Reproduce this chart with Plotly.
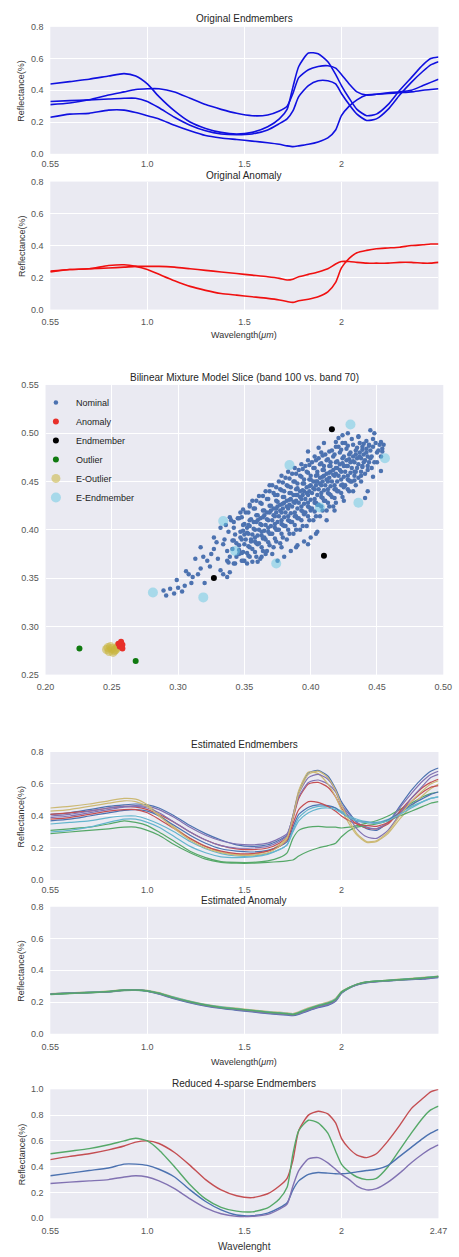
import plotly.graph_objects as go

W, H = 459, 1257

# ---------------- data ----------------
band = [0, 5, 10, 15, 19, 22, 25, 28, 32, 36, 40, 44, 48, 52, 56, 59, 61, 62.5, 64, 66.5,
        69, 71.5, 73.5, 75, 77, 79, 81.5, 84, 87, 90, 93, 96, 98, 100]
wl_tickvals = [0, 25, 50, 75]
wl_ticktext = ["0.55", "1.0", "1.5", "2"]
wl_tickvals_last = [0, 25, 50, 75, 100]
wl_ticktext_last = ["0.55", "1.0", "1.5", "2", "2.47"]

orig_a = [0.44, 0.455, 0.47, 0.49, 0.505, 0.49, 0.44, 0.36, 0.27, 0.20, 0.16, 0.135, 0.125, 0.135, 0.17, 0.22, 0.28,
          0.42, 0.55, 0.635, 0.63, 0.58, 0.50, 0.43, 0.35, 0.28, 0.24, 0.25, 0.31, 0.40, 0.48, 0.56, 0.60, 0.61]
orig_b = [0.31, 0.32, 0.34, 0.37, 0.39, 0.405, 0.41, 0.41, 0.39, 0.35, 0.31, 0.28, 0.255, 0.24, 0.245, 0.27, 0.30,
          0.38, 0.48, 0.53, 0.55, 0.555, 0.54, 0.50, 0.44, 0.39, 0.37, 0.375, 0.385, 0.39, 0.40, 0.43, 0.45, 0.47]
orig_c = [0.33, 0.335, 0.34, 0.345, 0.35, 0.35, 0.33, 0.29, 0.23, 0.18, 0.145, 0.125, 0.12, 0.125, 0.15, 0.19, 0.22,
          0.27, 0.36, 0.43, 0.46, 0.46, 0.44, 0.38, 0.31, 0.25, 0.21, 0.22, 0.28, 0.37, 0.45, 0.52, 0.56, 0.58]
orig_d = [0.23, 0.25, 0.255, 0.275, 0.275, 0.26, 0.24, 0.22, 0.18, 0.145, 0.115, 0.10, 0.09, 0.08, 0.07, 0.06, 0.05,
          0.045, 0.05, 0.06, 0.075, 0.10, 0.15, 0.24, 0.30, 0.34, 0.37, 0.375, 0.38, 0.385, 0.39, 0.40, 0.405, 0.41]

orig_anom_1 = [0.24, 0.25, 0.255, 0.26, 0.265, 0.27, 0.27, 0.27, 0.265, 0.255, 0.245, 0.235, 0.225, 0.215, 0.205,
               0.195, 0.185, 0.19, 0.205, 0.22, 0.235, 0.255, 0.285, 0.30, 0.30, 0.295, 0.29, 0.29, 0.29, 0.295,
               0.295, 0.29, 0.29, 0.295]
orig_anom_2 = [0.235, 0.25, 0.255, 0.275, 0.28, 0.27, 0.25, 0.22, 0.18, 0.145, 0.12, 0.10, 0.09, 0.08, 0.07, 0.06,
               0.05, 0.045, 0.055, 0.065, 0.08, 0.11, 0.17, 0.26, 0.32, 0.355, 0.37, 0.38, 0.385, 0.39, 0.40, 0.405,
               0.41, 0.41]

# scatter: band 100 vs band 70, (x, y) in thousandths
nominal = [
    (289, 337), (291, 332), (297, 334), (303, 336), (299, 348), (305, 342), (308, 354), (311, 351), (315, 354),
    (317, 360), (319, 372), (313, 370), (322, 368), (325, 375), (327, 380), (317, 382), (329, 387), (327, 392),
    (332, 358), (334, 354), (337, 351), (339, 356), (342, 365), (337, 368), (332, 402), (339, 413), (342, 389),
    (346, 375), (350, 368), (354, 372), (356, 367), (360, 367), (363, 372), (320, 345), (324, 362), (330, 370),
    (310, 345), (306, 357), (300, 340), (294, 339),
    (445, 503), (448, 500), (453, 491), (455, 488), (454, 481), (453, 461), (443, 440), (441, 433), (421, 495),
    (424, 498), (419, 491), (406, 485), (398, 481), (404, 396), (398, 385), (389, 382), (385, 378), (378, 382),
    (371, 375), (366, 375), (410, 490), (428, 500), (436, 497), (450, 470), (447, 455),
    (375, 368), (380, 372), (390, 384), (400, 392), (405, 398), (395, 388), (412, 410), (418, 420), (425, 430),
    (432, 440), (438, 450),
    (335, 390), (337, 378), (338, 398), (336, 405), (339, 372), (334, 385), (340, 410), (338, 366),
    (341, 380), (343, 395), (342, 402), (344, 372), (341, 389), (345, 412), (343, 365), (344, 386), (342, 408),
    (346, 384), (347, 398), (348, 376), (349, 405), (346, 412), (348, 390), (349, 368), (347, 418), (350, 395),
    (346, 379),
    (351, 390), (352, 402), (353, 383), (354, 410), (351, 418), (352, 376), (353, 396), (354, 424), (355, 388),
    (352, 365), (353, 405),
    (356, 395), (357, 408), (358, 388), (359, 415), (356, 380), (357, 422), (358, 400), (359, 372), (360, 410),
    (356, 430), (358, 392), (360, 385),
    (361, 400), (362, 412), (363, 394), (364, 420), (361, 386), (362, 428), (363, 405), (364, 378), (365, 415),
    (361, 435), (363, 398), (365, 392), (362, 370),
    (366, 405), (367, 418), (368, 398), (369, 425), (366, 390), (367, 432), (368, 410), (369, 384), (370, 420),
    (366, 440), (368, 402), (370, 396), (367, 378), (369, 446),
    (371, 410), (372, 422), (373, 402), (374, 430), (371, 396), (372, 438), (373, 414), (374, 388), (375, 424),
    (371, 446), (373, 406), (375, 400), (372, 382), (374, 418), (375, 436),
    (376, 414), (377, 426), (378, 406), (379, 434), (376, 400), (377, 442), (378, 418), (379, 392), (380, 428),
    (376, 450), (378, 410), (380, 404), (377, 386), (379, 422), (380, 440), (378, 456),
    (381, 418), (382, 430), (383, 410), (384, 438), (381, 404), (382, 446), (383, 422), (384, 396), (385, 432),
    (381, 454), (383, 414), (385, 408), (382, 390), (384, 426), (385, 444), (383, 460),
    (386, 424), (387, 436), (388, 414), (389, 442), (386, 408), (387, 450), (388, 428), (389, 400), (390, 436),
    (386, 458), (388, 418), (390, 412), (387, 396), (389, 430), (390, 448), (388, 464),
    (391, 428), (392, 440), (393, 420), (394, 448), (391, 412), (392, 456), (393, 432), (394, 404), (395, 440),
    (391, 462), (393, 424), (395, 416), (392, 400), (394, 436), (395, 452), (393, 468),
    (396, 432), (397, 444), (398, 424), (399, 452), (396, 418), (397, 460), (398, 436), (399, 410), (400, 446),
    (396, 466), (398, 428), (400, 420), (397, 404), (399, 440), (400, 456), (398, 472),
    (401, 438), (402, 450), (403, 428), (404, 456), (401, 422), (402, 464), (403, 442), (404, 414), (405, 450),
    (401, 470), (403, 432), (405, 426), (402, 410), (404, 446), (405, 460), (403, 476),
    (406, 442), (407, 454), (408, 434), (409, 462), (406, 426), (407, 468), (408, 446), (409, 420), (410, 456),
    (406, 474), (408, 438), (410, 430), (407, 414), (409, 450), (410, 466), (408, 480),
    (411, 446), (412, 458), (413, 438), (414, 466), (411, 430), (412, 472), (413, 450), (414, 424), (415, 460),
    (411, 478), (413, 442), (415, 436), (412, 420), (414, 454), (415, 470),
    (416, 450), (417, 462), (418, 442), (419, 470), (416, 434), (417, 476), (418, 456), (419, 428), (420, 464),
    (416, 482), (418, 446), (420, 440), (417, 424), (419, 458),
    (421, 456), (422, 468), (423, 446), (424, 474), (421, 440), (422, 480), (423, 460), (424, 434), (425, 466),
    (421, 486), (423, 452), (425, 444), (424, 490),
    (426, 460), (427, 472), (428, 452), (429, 478), (426, 446), (427, 484), (428, 466), (429, 440), (430, 470),
    (426, 490), (428, 456), (430, 450),
    (431, 464), (432, 476), (433, 456), (434, 482), (431, 450), (432, 488), (433, 470), (434, 446), (435, 474),
    (431, 494), (433, 460),
    (436, 468), (437, 480), (438, 460), (439, 486), (436, 454), (437, 490), (438, 474), (440, 478), (439, 466),
    (436, 496),
    (441, 472), (442, 484), (443, 466), (444, 488), (441, 458), (442, 492), (443, 476), (445, 482),
    (446, 476), (447, 486), (448, 470), (449, 490), (446, 464), (447, 494), (450, 480),
    (451, 482), (452, 488), (453, 476), (454, 484),
    # denser core
    (348, 368), (349, 377), (350, 385), (347, 392), (349, 399), (350, 406), (348, 413), (349, 421),
    (353, 373), (354, 382), (355, 390), (352, 397), (354, 404), (355, 411), (353, 418), (354, 426),
    (358, 377), (359, 386), (360, 394), (357, 401), (359, 408), (360, 415), (358, 422), (359, 430),
    (363, 382), (364, 391), (365, 399), (362, 406), (364, 413), (365, 420), (363, 427), (364, 435),
    (368, 387), (369, 396), (370, 404), (367, 411), (369, 418), (370, 425), (368, 432), (369, 440),
    (373, 391), (374, 400), (375, 408), (372, 415), (374, 422), (375, 429), (373, 436), (374, 444),
    (378, 396), (379, 405), (380, 413), (377, 420), (379, 427), (380, 434), (378, 441), (379, 449),
    (383, 400), (384, 409), (385, 417), (382, 424), (384, 431), (385, 438), (383, 445), (384, 453),
    (388, 405), (389, 414), (390, 422), (387, 429), (389, 436), (390, 443), (388, 450), (389, 458),
    (393, 410), (394, 419), (395, 427), (392, 434), (394, 441), (395, 448), (393, 455), (394, 463),
    (398, 414), (399, 423), (400, 431), (397, 438), (399, 445), (400, 452), (398, 459), (399, 467),
    (403, 419), (404, 428), (405, 436), (402, 443), (404, 450), (405, 457), (403, 464), (404, 472),
    (408, 424), (409, 433), (410, 441), (407, 448), (409, 455), (410, 462), (408, 469), (409, 477),
    (413, 428), (414, 437), (415, 445), (412, 452), (414, 459), (415, 466), (413, 473), (414, 481),
    (418, 433), (419, 442), (420, 450), (417, 457), (419, 464), (420, 471), (418, 478), (419, 486),
    (423, 438), (424, 447), (425, 455), (422, 462), (424, 469), (425, 476), (423, 483),
    (428, 442), (429, 451), (430, 459), (427, 466), (429, 473), (430, 480), (428, 487),
    (433, 451), (434, 460), (435, 464), (432, 471), (434, 478), (435, 485),
    (438, 456), (439, 465), (440, 470), (437, 476), (439, 483), (440, 489),
    (443, 462), (444, 470), (445, 474), (442, 480), (444, 487),
]
anomaly_x = [0.257, 0.258, 0.256, 0.258, 0.255]
anomaly_y = [0.284, 0.281, 0.279, 0.277, 0.282]
endmember_x = [0.416, 0.410, 0.327]
endmember_y = [0.504, 0.373, 0.350]
outlier_x = [0.2256, 0.268]
outlier_y = [0.277, 0.264]
e_outlier_x = [0.246, 0.248, 0.250, 0.252, 0.254, 0.249, 0.251, 0.247, 0.253, 0.255]
e_outlier_y = [0.276, 0.274, 0.277, 0.275, 0.278, 0.279, 0.273, 0.278, 0.276, 0.280]
e_endmember_x = [0.430, 0.456, 0.384, 0.334, 0.343, 0.374, 0.407, 0.436, 0.281, 0.319]
e_endmember_y = [0.509, 0.474, 0.467, 0.409, 0.378, 0.365, 0.423, 0.428, 0.335, 0.330]

est_blue1 = [0.41, 0.42, 0.44, 0.46, 0.47, 0.475, 0.47, 0.45, 0.40, 0.34, 0.29, 0.25, 0.22, 0.21, 0.22, 0.25, 0.28,
             0.40, 0.55, 0.67, 0.685, 0.65, 0.57, 0.49, 0.42, 0.36, 0.32, 0.31, 0.36, 0.46, 0.56, 0.64, 0.68, 0.70]
est_green1 = [0.31, 0.32, 0.33, 0.35, 0.37, 0.36, 0.34, 0.30, 0.24, 0.18, 0.14, 0.115, 0.11, 0.11, 0.12, 0.14, 0.17,
              0.26, 0.31, 0.33, 0.335, 0.33, 0.33, 0.325, 0.33, 0.34, 0.355, 0.37, 0.40, 0.44, 0.48, 0.52, 0.54, 0.55]
est_red1 = [0.41, 0.42, 0.43, 0.45, 0.46, 0.455, 0.44, 0.41, 0.36, 0.30, 0.25, 0.215, 0.195, 0.19, 0.20, 0.23, 0.27,
            0.38, 0.51, 0.60, 0.61, 0.58, 0.52, 0.45, 0.39, 0.35, 0.325, 0.32, 0.35, 0.43, 0.51, 0.58, 0.61, 0.63]
est_purple1 = [0.40, 0.41, 0.43, 0.45, 0.46, 0.465, 0.46, 0.44, 0.39, 0.33, 0.28, 0.245, 0.225, 0.22, 0.23, 0.26, 0.29,
               0.39, 0.52, 0.61, 0.625, 0.60, 0.55, 0.47, 0.41, 0.36, 0.33, 0.32, 0.36, 0.45, 0.54, 0.62, 0.66, 0.68]
est_khaki1 = [0.45, 0.46, 0.475, 0.495, 0.51, 0.505, 0.47, 0.41, 0.33, 0.26, 0.21, 0.175, 0.16, 0.16, 0.18, 0.22, 0.27,
              0.40, 0.56, 0.675, 0.665, 0.60, 0.52, 0.44, 0.35, 0.28, 0.235, 0.24, 0.29, 0.38, 0.46, 0.53, 0.57, 0.60]
est_cyan1 = [0.35, 0.36, 0.37, 0.39, 0.40, 0.40, 0.38, 0.35, 0.30, 0.24, 0.195, 0.165, 0.15, 0.15, 0.165, 0.19, 0.22,
             0.31, 0.39, 0.44, 0.46, 0.46, 0.45, 0.43, 0.40, 0.38, 0.365, 0.36, 0.38, 0.42, 0.46, 0.49, 0.51, 0.52]
est_blue2 = [0.37, 0.38, 0.40, 0.42, 0.435, 0.44, 0.43, 0.40, 0.34, 0.28, 0.23, 0.195, 0.18, 0.175, 0.185, 0.21, 0.24,
             0.33, 0.41, 0.455, 0.47, 0.465, 0.45, 0.42, 0.39, 0.37, 0.36, 0.355, 0.375, 0.42, 0.47, 0.51, 0.535, 0.55]
est_green2 = [0.29, 0.30, 0.31, 0.32, 0.33, 0.33, 0.31, 0.28, 0.22, 0.17, 0.13, 0.11, 0.105, 0.105, 0.11, 0.115, 0.12,
              0.125, 0.15, 0.18, 0.20, 0.215, 0.23, 0.27, 0.31, 0.33, 0.34, 0.35, 0.37, 0.40, 0.43, 0.46, 0.48, 0.49]
est_red2 = [0.38, 0.39, 0.41, 0.43, 0.44, 0.44, 0.42, 0.38, 0.32, 0.26, 0.21, 0.18, 0.165, 0.165, 0.18, 0.21, 0.25,
            0.35, 0.44, 0.49, 0.485, 0.46, 0.43, 0.40, 0.37, 0.35, 0.34, 0.335, 0.36, 0.42, 0.49, 0.55, 0.58, 0.59]
est_purple2 = [0.39, 0.40, 0.42, 0.44, 0.455, 0.46, 0.45, 0.42, 0.36, 0.30, 0.25, 0.215, 0.20, 0.20, 0.21, 0.24, 0.28,
               0.40, 0.54, 0.64, 0.66, 0.63, 0.56, 0.47, 0.39, 0.32, 0.27, 0.26, 0.31, 0.41, 0.51, 0.59, 0.64, 0.66]
est_khaki2 = [0.43, 0.44, 0.46, 0.48, 0.495, 0.49, 0.46, 0.40, 0.32, 0.25, 0.20, 0.17, 0.155, 0.155, 0.17, 0.21, 0.26,
              0.39, 0.54, 0.66, 0.68, 0.64, 0.56, 0.47, 0.37, 0.29, 0.24, 0.245, 0.30, 0.40, 0.49, 0.56, 0.60, 0.62]
est_cyan2 = [0.30, 0.31, 0.33, 0.36, 0.38, 0.38, 0.36, 0.33, 0.27, 0.21, 0.17, 0.145, 0.14, 0.145, 0.16, 0.19, 0.22,
             0.30, 0.37, 0.42, 0.445, 0.45, 0.44, 0.42, 0.39, 0.37, 0.36, 0.355, 0.37, 0.41, 0.45, 0.49, 0.51, 0.52]

est_anom_1 = [0.25, 0.255, 0.26, 0.265, 0.275, 0.275, 0.268, 0.25, 0.22, 0.195, 0.175, 0.16, 0.148, 0.138, 0.128,
              0.122, 0.118, 0.115, 0.123, 0.145, 0.165, 0.18, 0.205, 0.255, 0.288, 0.308, 0.322, 0.328, 0.332, 0.338,
              0.342, 0.345, 0.35, 0.355]
est_anom_2 = [0.252, 0.257, 0.262, 0.267, 0.277, 0.277, 0.272, 0.258, 0.23, 0.205, 0.185, 0.17, 0.16, 0.15, 0.14,
              0.135, 0.13, 0.126, 0.138, 0.162, 0.182, 0.198, 0.222, 0.265, 0.292, 0.312, 0.327, 0.332, 0.337, 0.343,
              0.348, 0.354, 0.358, 0.362]
est_anom_3 = [0.248, 0.254, 0.259, 0.264, 0.273, 0.274, 0.27, 0.254, 0.225, 0.2, 0.18, 0.165, 0.154, 0.144, 0.134,
              0.128, 0.124, 0.12, 0.13, 0.152, 0.172, 0.188, 0.212, 0.26, 0.29, 0.31, 0.325, 0.33, 0.335, 0.34, 0.345,
              0.35, 0.355, 0.36]
est_anom_4 = [0.25, 0.256, 0.261, 0.266, 0.276, 0.276, 0.271, 0.256, 0.228, 0.203, 0.183, 0.168, 0.157, 0.147, 0.137,
              0.132, 0.127, 0.123, 0.134, 0.158, 0.178, 0.194, 0.218, 0.262, 0.291, 0.311, 0.326, 0.331, 0.336, 0.342,
              0.347, 0.352, 0.357, 0.361]
est_anom_5 = [0.251, 0.256, 0.26, 0.265, 0.274, 0.275, 0.269, 0.252, 0.223, 0.198, 0.178, 0.163, 0.151, 0.141, 0.131,
              0.125, 0.121, 0.118, 0.127, 0.149, 0.169, 0.184, 0.208, 0.258, 0.289, 0.309, 0.324, 0.329, 0.334, 0.339,
              0.344, 0.348, 0.352, 0.357]
est_anom_6 = [0.249, 0.255, 0.26, 0.266, 0.275, 0.276, 0.27, 0.255, 0.226, 0.201, 0.181, 0.166, 0.156, 0.146, 0.136,
              0.13, 0.126, 0.122, 0.132, 0.156, 0.176, 0.192, 0.216, 0.262, 0.29, 0.311, 0.326, 0.331, 0.336, 0.341,
              0.346, 0.351, 0.356, 0.36]

red_sparse = [0.455, 0.48, 0.50, 0.53, 0.56, 0.59, 0.60, 0.58, 0.51, 0.41, 0.30, 0.22, 0.175, 0.16, 0.19, 0.25, 0.31,
              0.45, 0.68, 0.80, 0.83, 0.81, 0.74, 0.62, 0.54, 0.49, 0.47, 0.50, 0.60, 0.72, 0.85, 0.93, 0.98, 1.0]
green_sparse = [0.50, 0.52, 0.54, 0.57, 0.60, 0.62, 0.60, 0.53, 0.40, 0.26, 0.15, 0.085, 0.055, 0.05, 0.08, 0.15,
                0.24, 0.50, 0.68, 0.76, 0.74, 0.66, 0.52, 0.42, 0.36, 0.32, 0.30, 0.31, 0.40, 0.53, 0.66, 0.78, 0.84,
                0.87]
blue_sparse = [0.33, 0.35, 0.37, 0.39, 0.42, 0.42, 0.41, 0.38, 0.32, 0.22, 0.13, 0.065, 0.025, 0.02, 0.04, 0.08, 0.12,
               0.22, 0.29, 0.34, 0.355, 0.35, 0.345, 0.345, 0.35, 0.36, 0.37, 0.38, 0.41, 0.48, 0.55, 0.62, 0.66, 0.69]
purple_sparse = [0.27, 0.28, 0.29, 0.30, 0.32, 0.33, 0.32, 0.29, 0.23, 0.15, 0.08, 0.035, 0.015, 0.015, 0.03, 0.07,
                 0.11, 0.25, 0.37, 0.46, 0.47, 0.43, 0.38, 0.34, 0.30, 0.25, 0.22, 0.23, 0.28, 0.35, 0.43, 0.50, 0.54,
                 0.57]

# ---------------- styling ----------------
BLUE, GREEN, RED, PURPLE, KHAKI, CYAN = "#4C72B0", "#55A868", "#C44E52", "#8172B2", "#CCB974", "#64B5CD"
BG = "#EAEAF2"
FONT = "Liberation Sans, Arial, sans-serif"
TICKFONT = dict(family=FONT, size=9, color="#555555")


def xdom(l, r):
    return [l / W, r / W]


def ydom(t, b):
    return [1 - b / H, 1 - t / H]


fig = go.Figure()


def add_line(y, color, ax, width=1.5):
    fig.add_trace(go.Scatter(x=band, y=y, mode="lines", line=dict(color=color, width=width, shape="spline",
                                                                   smoothing=0.6),
                             xaxis="x" + ax, yaxis="y" + ax, showlegend=False, hoverinfo="skip"))


for c in [orig_a, orig_b, orig_c, orig_d]:
    add_line(c, "#1010E0", "", 1.6)
for c in [orig_anom_1, orig_anom_2]:
    add_line(c, "#F01010", "2", 1.6)

# scatter
nom_x = [p[0] / 1000 for p in nominal]
nom_y = [p[1] / 1000 for p in nominal]
fig.add_trace(go.Scatter(x=nom_x, y=nom_y, mode="markers", name="Nominal", legendrank=1,
                         marker=dict(color=BLUE, size=4.5), xaxis="x3", yaxis="y3"))
fig.add_trace(go.Scatter(x=e_outlier_x, y=e_outlier_y, mode="markers", name="E-Outlier", legendrank=5,
                         marker=dict(color="rgba(200,180,60,0.55)", size=9), xaxis="x3", yaxis="y3"))
fig.add_trace(go.Scatter(x=anomaly_x, y=anomaly_y, mode="markers", name="Anomaly", legendrank=2,
                         marker=dict(color="#E8302A", size=6), xaxis="x3", yaxis="y3"))
fig.add_trace(go.Scatter(x=endmember_x, y=endmember_y, mode="markers", name="Endmember", legendrank=3,
                         marker=dict(color="black", size=6), xaxis="x3", yaxis="y3"))
fig.add_trace(go.Scatter(x=outlier_x, y=outlier_y, mode="markers", name="Outlier", legendrank=4,
                         marker=dict(color="#107A10", size=6), xaxis="x3", yaxis="y3"))
fig.add_trace(go.Scatter(x=e_endmember_x, y=e_endmember_y, mode="markers", name="E-Endmember", legendrank=6,
                         marker=dict(color="rgba(100,200,225,0.5)", size=10), xaxis="x3", yaxis="y3"))

est = [(est_blue1, BLUE), (est_green1, GREEN), (est_red1, RED), (est_purple1, PURPLE), (est_khaki1, KHAKI),
       (est_cyan1, CYAN), (est_blue2, BLUE), (est_green2, GREEN), (est_red2, RED), (est_purple2, PURPLE),
       (est_khaki2, KHAKI), (est_cyan2, CYAN)]
for y, c in est:
    add_line(y, c, "4", 1.2)

for y, c in [(est_anom_1, BLUE), (est_anom_2, KHAKI), (est_anom_3, GREEN), (est_anom_4, CYAN),
             (est_anom_5, PURPLE), (est_anom_6, GREEN)]:
    add_line(y, c, "5", 1.5)

for y, c in [(red_sparse, RED), (green_sparse, GREEN), (blue_sparse, BLUE), (purple_sparse, PURPLE)]:
    add_line(y, c, "6", 1.4)

common = dict(showgrid=True, gridcolor="white", gridwidth=1, zeroline=False, showline=False, ticks="outside",
              ticklen=4, tickcolor="rgba(0,0,0,0)", tickfont=TICKFONT, fixedrange=True)

panels = {
    "": ((43, 447), (22, 150)),
    "2": ((43, 447), (178, 307)),
    "3": ((38, 452), (383, 675)),
    "4": ((43, 447), (753, 882)),
    "5": ((43, 447), (909, 1037)),
    "6": ((43, 447), (1093, 1223)),
}
layout = {}
for k, (xs, ys) in panels.items():
    xa = dict(common, domain=xdom(*xs), anchor="y" + k)
    ya = dict(common, domain=ydom(*ys), anchor="x" + k)
    if k in ("", "4"):
        xa.update(ticklen=1)
    if k == "3":
        xa.update(range=[0.2, 0.5], tickvals=[0.2, 0.25, 0.3, 0.35, 0.4, 0.45, 0.5],
                  ticktext=["0.20", "0.25", "0.30", "0.35", "0.40", "0.45", "0.50"])
        ya.update(range=[0.25, 0.55], tickvals=[0.25, 0.3, 0.35, 0.4, 0.45, 0.5, 0.55],
                  ticktext=["0.25", "0.30", "0.35", "0.40", "0.45", "0.50", "0.55"])
    else:
        if k == "6":
            xa.update(range=[0, 100], tickvals=wl_tickvals_last, ticktext=wl_ticktext_last)
            ya.update(range=[0, 1.0], tickvals=[0, 0.2, 0.4, 0.6, 0.8, 1.0],
                      ticktext=["0.0", "0.2", "0.4", "0.6", "0.8", "1.0"])
        else:
            xa.update(range=[0, 100], tickvals=wl_tickvals, ticktext=wl_ticktext)
            ya.update(range=[0, 0.8], tickvals=[0, 0.2, 0.4, 0.6, 0.8],
                      ticktext=["0.0", "0.2", "0.4", "0.6", "0.8"])
    layout["xaxis" + k] = xa
    layout["yaxis" + k] = ya


def ann(text, xpx, ypx, size=10, angle=0, color="#262626"):
    return dict(text=text, x=xpx / W, y=1 - ypx / H, xref="paper", yref="paper", showarrow=False,
                xanchor="center", yanchor="middle", textangle=angle,
                font=dict(family=FONT, size=size, color=color))


annotations = [
    ann("Original Endmembers", 245, 14),
    ann("Original Anomaly", 245, 171.5),
    ann("Bilinear Mixture Model Slice (band 100 vs. band 70)", 245, 375),
    ann("Estimated Endmembers", 245, 745),
    ann("Estimated Anomaly", 245, 902.5),
    ann("Reduced 4-sparse Endmembers", 245, 1087),
    ann("Wavelength(<i>μm</i>)", 245, 333, 9, 0, "#333333"),
    ann("Wavelength(<i>μm</i>)", 245, 1065, 9, 0, "#333333"),
    ann("Wavelenght", 245, 1251, 10, 0, "#333333"),
]
for k, (xs, ys) in panels.items():
    if k != "3":
        annotations.append(ann("Reflectance(%)", 13, (ys[0] + ys[1]) / 2, 9, -90, "#333333"))

fig.update_layout(
    width=W, height=H, margin=dict(l=0, r=0, t=0, b=0),
    paper_bgcolor="white", plot_bgcolor=BG,
    font=dict(family=FONT, size=9, color="#333333"),
    showlegend=True,
    legend=dict(x=28 / W, y=1 - 386 / H, xanchor="left", yanchor="top", bgcolor="rgba(0,0,0,0)",
                font=dict(family=FONT, size=9, color="#222222"), itemsizing="trace", tracegroupgap=0),
    annotations=annotations,
    **layout,
)

fig.write_html("out.html")
